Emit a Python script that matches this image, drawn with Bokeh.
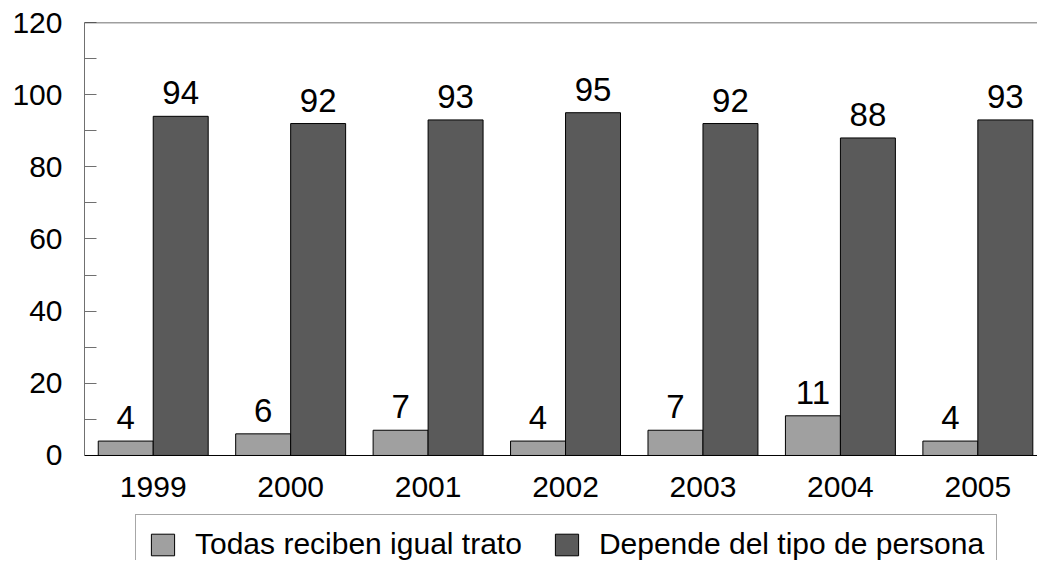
from bokeh.plotting import figure
from bokeh.models import (ColumnDataSource, Range1d, FixedTicker, Span, Legend, LegendItem, LabelSet)
from bokeh.transform import dodge
from bokeh.core.properties import value
from bokeh.embed import file_html
from bokeh.resources import INLINE

years = ["1999", "2000", "2001", "2002", "2003", "2004", "2005"]
todas = [4, 6, 7, 4, 7, 11, 4]
depende = [94, 92, 93, 95, 92, 88, 93]
y_ticks = [0, 20, 40, 60, 80, 100, 120]
y_minor = [10, 30, 50, 70, 90, 110]

FONT = "Liberation Sans"
LIGHT = "#a0a0a0"
DARK = "#5a5a5a"

idx = list(range(len(years)))
src = ColumnDataSource(dict(
    x=idx, year=years, todas=todas, depende=depende,
    todas_lbl=[str(v) for v in todas],
    depende_lbl=[str(v) for v in depende],
))

# frame spans down to the bottom of the figure; value 0 sits 105 px above it
p = figure(width=1037, height=560, output_backend="svg", toolbar_location=None,
           x_range=Range1d(-0.5, 6.434), y_range=Range1d(-29.1, 120),
           min_border_left=84, min_border_right=0, min_border_top=22, min_border_bottom=0)
p.outline_line_color = None
p.grid.visible = False
p.xaxis.visible = False
p.background_fill_color = "white"
p.border_fill_color = "white"

r1 = p.vbar(x=dodge("x", -0.2), top="todas", bottom=0, width=0.4, source=src,
            fill_color=LIGHT, line_color="black", line_width=1)
r2 = p.vbar(x=dodge("x", 0.2), top="depende", bottom=0, width=0.4, source=src,
            fill_color=DARK, line_color="black", line_width=1)

for col, off in (("todas", -0.2), ("depende", 0.2)):
    p.add_layout(LabelSet(x=dodge("x", off), y=col, text=col + "_lbl", source=src,
                          text_align="center", text_baseline="alphabetic", y_offset=12,
                          text_font=value(FONT), text_font_size=value("33px"),
                          text_color="black"))

# category (year) labels under the baseline
p.add_layout(LabelSet(x="x", y=0, text="year", source=src,
                      text_align="center", text_baseline="alphabetic", y_offset=-42,
                      text_font=value(FONT), text_font_size=value("30px"),
                      text_color="black"))

# baseline (x axis line) and top border
p.add_layout(Span(location=0, dimension="width", line_color="black", line_width=1))
p.add_layout(Span(location=120, dimension="width", line_color="#404040", line_width=1.5))

# y axis
ya = p.yaxis[0]
ya.bounds = (0, 120)
ya.ticker = FixedTicker(ticks=y_ticks, minor_ticks=y_minor)
ya.axis_line_color = "#707070"
ya.major_tick_line_color = "#707070"
ya.minor_tick_line_color = "#707070"
ya.major_tick_in = 12
ya.major_tick_out = 0
ya.minor_tick_in = 12
ya.minor_tick_out = 0
ya.major_label_standoff = 22
ya.major_label_text_font = FONT
ya.major_label_text_font_size = "30px"
ya.major_label_text_color = "black"

legend = Legend(items=[LegendItem(label="Todas reciben igual trato", renderers=[r1]),
                       LegendItem(label="Depende del tipo de persona", renderers=[r2])],
                orientation="horizontal", location=(51, -14))
legend.label_text_font = FONT
legend.label_text_font_size = "30px"
legend.label_text_color = "black"
legend.glyph_width = 29
legend.glyph_height = 27
legend.label_standoff = 18
legend.spacing = 30
legend.padding = 12
legend.margin = 0
legend.border_line_color = "#505050"
legend.border_line_width = 1
legend.background_fill_color = "white"
legend.background_fill_alpha = 1
p.add_layout(legend)

open("out.html", "w").write(file_html(p, INLINE))
